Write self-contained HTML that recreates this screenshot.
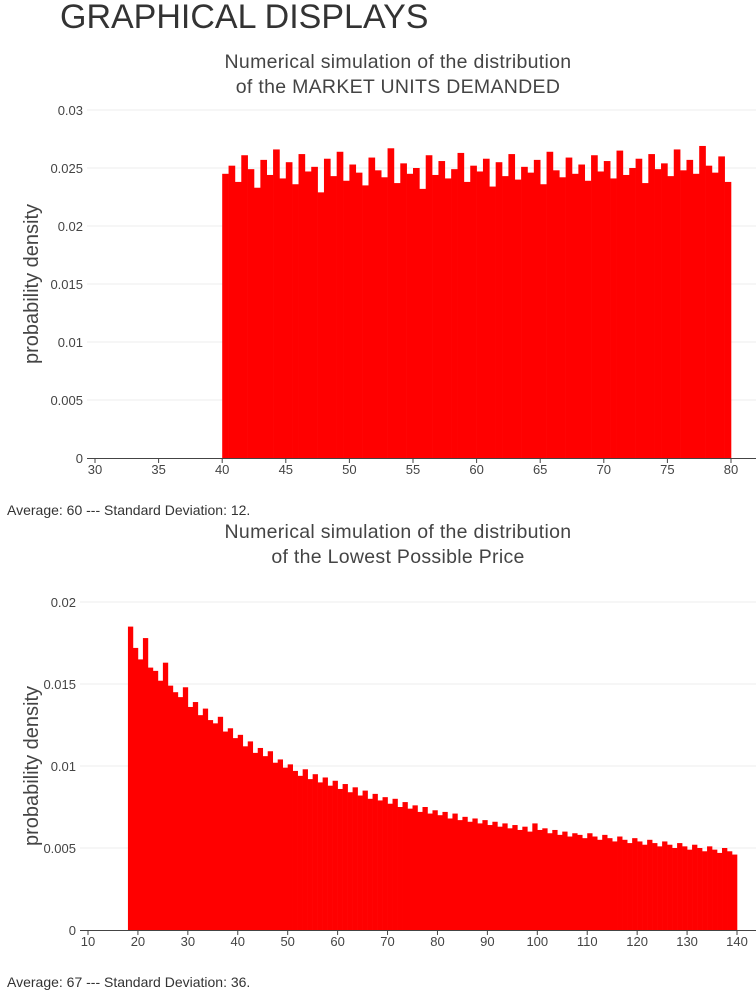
<!DOCTYPE html>
<html><head><meta charset="utf-8">
<style>
body{margin:0;background:#fff;width:756px;height:996px;overflow:hidden;font-family:"Liberation Sans",sans-serif}
#h{position:absolute;left:60px;top:-2px;font-size:34px;color:#333;margin:0;font-weight:normal}
.note{position:absolute;left:7px;font-size:14px;color:#333}
svg{position:absolute;left:0;top:0}
</style></head><body>
<h1 id="h">GRAPHICAL DISPLAYS</h1>
<div class="note" style="top:502px">Average: 60 --- Standard Deviation: 12.</div>
<div class="note" style="top:974px">Average: 67 --- Standard Deviation: 36.</div>
<svg id="s" width="756" height="996"></svg>
<script>
const units_start=40, units_binw=0.5;
const units_values=[.0245,.0252,.0238,.0261,.0249,.0233,.0257,.0244,.0266,.0241,
.0255,.0236,.0262,.0247,.0251,.0229,.0258,.0243,.0264,.0239,
.0253,.0246,.0235,.0259,.0248,.0242,.0267,.0237,.0254,.0245,
.025,.0232,.0261,.0244,.0256,.0241,.0249,.0263,.0238,.0252,
.0247,.0258,.0234,.0255,.0243,.0262,.024,.0251,.0246,.0257,
.0236,.0264,.0248,.0242,.0259,.0245,.0253,.0239,.0261,.0247,
.0256,.0241,.0265,.0244,.025,.0258,.0237,.0262,.0249,.0254,
.0243,.0266,.0248,.0257,.0245,.0269,.0252,.0246,.026,.0238];
const units_xticks=[30,35,40,45,50,55,60,65,70,75,80];
const units_yticks=[0,0.005,0.01,0.015,0.02,0.025,0.03];
const units_ylabels=["0","0.005","0.01","0.015","0.02","0.025","0.03"];

const price_start=18, price_binw=1;
const price_values=[.0185,.0172,.0165,.0178,.016,.0158,.0152,.0163,.0149,.0145,
.0142,.0148,.0136,.0139,.0131,.0135,.0128,.0126,.013,.0121,
.0123,.0117,.0119,.0112,.0115,.0108,.0111,.0106,.0109,.0102,
.0104,.0099,.0101,.0097,.0094,.0098,.0092,.0095,.009,.0093,
.0088,.0091,.0086,.0089,.0084,.0087,.0082,.0085,.008,.0083,
.0079,.0081,.0077,.008,.0075,.0078,.0074,.0076,.0072,.0075,
.0071,.0073,.007,.0072,.0068,.0071,.0067,.0069,.0066,.0068,
.0065,.0067,.0064,.0066,.0063,.0065,.0062,.0064,.0061,.0063,
.006,.0065,.0061,.0062,.0059,.0061,.0058,.006,.0057,.0059,
.0058,.0056,.0059,.0057,.0055,.0058,.0056,.0054,.0057,.0055,
.0053,.0056,.0054,.0052,.0055,.0053,.0051,.0054,.0052,.005,
.0053,.0051,.0049,.0052,.005,.0048,.0051,.0049,.0047,.005,.0048,.0046];
const price_xticks=[10,20,30,40,50,60,70,80,90,100,110,120,130,140];
const price_yticks=[0,0.005,0.01,0.015,0.02];
const price_ylabels=["0","0.005","0.01","0.015","0.02"];

const NS="http://www.w3.org/2000/svg", svg=document.getElementById('s');
function mk(t,a,p){const e=document.createElementNS(NS,t);for(const k in a)e.setAttribute(k,a[k]);(p||svg).appendChild(e);return e;}
function chart(cfg){
  const g=mk('g',{});
  
  
  const X=v=>cfg.x0+(v-cfg.xa)*(cfg.x1-cfg.x0)/(cfg.xb-cfg.xa);
  const Y=v=>cfg.y0-(v)*(cfg.y0-cfg.y1)/cfg.ymax;
  cfg.yticks.forEach((t,i)=>{
    if(t>0){const l=mk('line',{x1:cfg.x0-8,x2:756,y1:Y(t),y2:Y(t),stroke:'#eee','stroke-width':1},g);
    }
    const tx=mk('text',{x:cfg.x0-12,y:Y(t)+5,'text-anchor':'end','font-size':13,fill:'#444'},g);
    tx.textContent=cfg.ylabels[i];
    
  });
  cfg.values.forEach((v,i)=>{
    const a=X(cfg.start+i*cfg.binw), b=X(cfg.start+(i+1)*cfg.binw);
    const r=mk('rect',{x:a,y:Y(v),width:b-a+0.3,height:cfg.y0-Y(v),fill:'#ff0000'},g);
    
  });
  const ax=mk('line',{x1:cfg.x0-8,x2:756,y1:cfg.y0+0.5,y2:cfg.y0+0.5,stroke:'#444','stroke-width':1},g);
  
  cfg.xticks.forEach(t=>{
    mk('line',{x1:X(t),x2:X(t),y1:cfg.y0,y2:cfg.y0+5,stroke:'#444'},g);
    const tx=mk('text',{x:X(t),y:cfg.y0+16,'text-anchor':'middle','font-size':13,fill:'#444'},g);
    tx.textContent=t;
    
  });
  cfg.title.forEach((s,i)=>{
    const tx=mk('text',{x:398,y:cfg.ty+i*25,'text-anchor':'middle','font-size':19.5,fill:'#444','letter-spacing':0.3},g);
    tx.textContent=s;
    
  });
  const cy=(cfg.y0+cfg.y1)/2;
  const yl=mk('text',{x:38,y:cy,'text-anchor':'middle','font-size':20,fill:'#444',transform:`rotate(-90 38 ${cy})`},g);
  yl.textContent='probability density';
  
}
chart({name:'units-histogram',x0:95,x1:731,xa:30,xb:80,y0:458,y1:110,ymax:0.03,
  values:units_values,start:units_start,binw:units_binw,xticks:units_xticks,yticks:units_yticks,ylabels:units_ylabels,
  title:['Numerical simulation of the distribution','of the MARKET UNITS DEMANDED'],ty:68});
chart({name:'price-histogram',x0:88,x1:737,xa:10,xb:140,y0:930,y1:602,ymax:0.02,
  values:price_values,start:price_start,binw:price_binw,xticks:price_xticks,yticks:price_yticks,ylabels:price_ylabels,
  title:['Numerical simulation of the distribution','of the Lowest Possible Price'],ty:538});
</script>
</body></html>
